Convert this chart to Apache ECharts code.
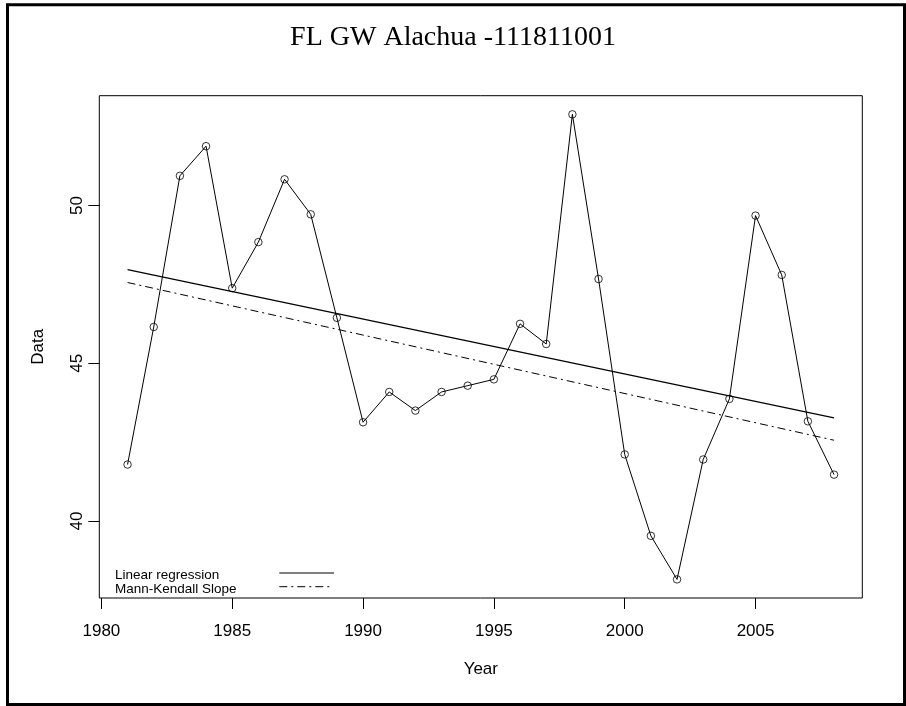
<!DOCTYPE html>
<html>
<head>
<meta charset="utf-8">
<script src="https://cdn.jsdelivr.net/npm/echarts@6/dist/echarts.min.js"></script>
<style>
  html, body { margin: 0; padding: 0; background: #fff; }
  #chart { width: 906px; height: 706px; }
</style>
</head>
<body>
<div id="chart"></div>
<script>
var years = [1981, 1982, 1983, 1984, 1985, 1986, 1987, 1988, 1989, 1990, 1991, 1992, 1993, 1994,
             1995, 1996, 1997, 1998, 1999, 2000, 2001, 2002, 2003, 2004, 2005, 2006, 2007, 2008];
var values = [41.79, 46.15, 50.94, 51.88, 47.38, 48.84, 50.83, 49.72, 46.44, 43.13, 44.09, 43.50, 44.09, 44.29,
              44.49, 46.25, 45.61, 52.89, 47.67, 42.11, 39.53, 38.15, 41.95, 43.87, 49.68, 47.80, 43.16, 41.47];
var regYears = [1981, 2008];
var regValues = [47.97, 43.27];     // Linear regression
var mkValues = [47.56, 42.56];      // Mann-Kendall Slope
var xTicks = [1980, 1985, 1990, 1995, 2000, 2005];
var yTicks = [40, 45, 50];

var sans = 'Liberation Sans';
var chart = echarts.init(document.getElementById('chart'));

function pairs(xs, ys) {
    var out = [];
    for (var i = 0; i < xs.length; i++) out.push([xs[i], ys[i]]);
    return out;
}

var option = {
    animation: false,
    backgroundColor: '#fff',
    grid: {
        left: 99.3, right: 43.7, top: 95.7, bottom: 108,
        show: true, borderColor: '#000', borderWidth: 1, backgroundColor: 'transparent'
    },
    xAxis: {
        type: 'value',
        min: 1979.92, max: 2009.08,
        name: 'Year', nameLocation: 'middle', nameGap: 63,
        nameTextStyle: { fontFamily: sans, fontSize: 17, color: '#000' },
        axisLine: { show: false },
        axisTick: { show: true, inside: false, length: 11, customValues: xTicks, lineStyle: { color: '#000' } },
        axisLabel: {
            customValues: xTicks, margin: 25, fontFamily: sans, fontSize: 17, color: '#000',
            formatter: function (v) { return String(v); }
        },
        splitLine: { show: false }
    },
    yAxis: {
        type: 'value',
        min: 37.56, max: 53.48,
        name: 'Data', nameLocation: 'middle', nameGap: 52,
        nameTextStyle: { fontFamily: sans, fontSize: 17, color: '#000' },
        axisLine: { show: false },
        axisTick: { show: true, inside: false, length: 11, customValues: yTicks, lineStyle: { color: '#000' } },
        axisLabel: { customValues: yTicks, rotate: 90, margin: 13, fontFamily: sans, fontSize: 17, color: '#000' },
        splitLine: { show: false }
    },
    series: [
        {
            type: 'line',
            data: pairs(years, values),
            symbol: 'circle',
            symbolSize: 7.5,
            lineStyle: { color: '#000', width: 1 },
            itemStyle: { color: 'rgba(255,255,255,0)', borderColor: '#000', borderWidth: 0.8 },
            emphasis: { disabled: true },
            z: 3
        },
        {
            type: 'line',
            data: pairs(regYears, regValues),
            symbol: 'none',
            lineStyle: { color: '#000', width: 1.2 },
            z: 2
        },
        {
            type: 'line',
            data: pairs(regYears, mkValues),
            symbol: 'none',
            lineStyle: { color: '#000', width: 1, type: [8, 4, 2, 4] },
            z: 2
        }
    ],
    graphic: [
        {
            type: 'rect',
            shape: { x: 7.5, y: 4.7, width: 897, height: 699.8 },
            style: { fill: 'none', stroke: '#000', lineWidth: 3 },
            silent: true
        },
        {
            type: 'text', left: 'center', top: 24,
            style: { text: 'FL GW Alachua -111811001', fontFamily: 'Liberation Serif', fontSize: 28, fill: '#000' }
        },
        {
            type: 'text', x: 115, y: 575,
            style: { text: 'Linear regression', fontFamily: sans, fontSize: 13.5, fill: '#000', textVerticalAlign: 'middle' }
        },
        {
            type: 'text', x: 115, y: 589,
            style: { text: 'Mann-Kendall Slope', fontFamily: sans, fontSize: 13.5, fill: '#000', textVerticalAlign: 'middle' }
        },
        {
            type: 'line',
            shape: { x1: 279.3, y1: 573, x2: 334, y2: 573 },
            style: { stroke: '#000', lineWidth: 1 }
        },
        {
            type: 'line',
            shape: { x1: 279.3, y1: 586.7, x2: 332.3, y2: 586.7 },
            style: { stroke: '#000', lineWidth: 1, lineDash: [8, 4, 2, 4] }
        }
    ]
};
chart.setOption(option);
</script>
</body>
</html>
